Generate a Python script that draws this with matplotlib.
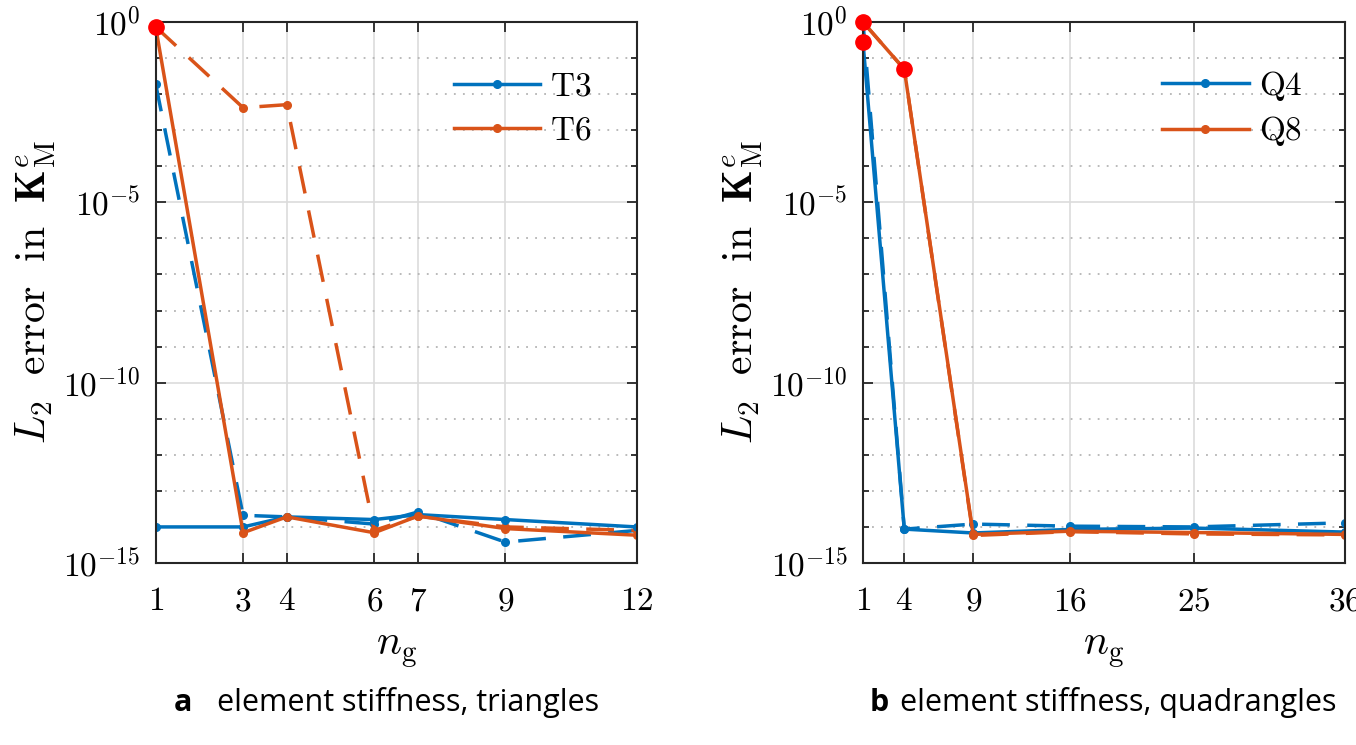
import numpy as np
import matplotlib
matplotlib.use('Agg')
import matplotlib.pyplot as plt
from matplotlib.ticker import FixedLocator, FixedFormatter, NullFormatter

plt.rcParams['mathtext.fontset'] = 'cm'
plt.rcParams['font.family'] = 'serif'
plt.rcParams['font.serif'] = ['DejaVu Serif']

BLUE = '#0072BD'
ORANGE = '#D95319'

# triangles
ng_tri = [1, 3, 4, 6, 7, 9, 12]
t3_solid = [1.0e-14, 1.0e-14, 1.9e-14, 1.6e-14, 2.2e-14, 1.6e-14, 1.0e-14]
t3_dashed = [1.9e-2, 2.1e-14, 1.9e-14, 1.2e-14, 2.6e-14, 3.8e-15, 8.0e-15]
t6_solid = [0.73, 6.9e-15, 1.9e-14, 6.9e-15, 2.0e-14, 9.0e-15, 5.9e-15]
t6_dashed = [0.73, 4.2e-3, 5.1e-3, 8.0e-15, 2.0e-14, 1.0e-14, 8.0e-15]
red_tri_x = [1]
red_tri_y = [0.73]

# quadrangles
ng_quad = [1, 4, 9, 16, 25, 36]
q4_solid = [0.28, 8.7e-15, 6.8e-15, 8.5e-15, 9.3e-15, 7.2e-15]
q4_dashed = [1.0, 8.7e-15, 1.2e-14, 1.05e-14, 1.0e-14, 1.3e-14]
q8_solid = [1.0, 4.9e-2, 6.2e-15, 7.6e-15, 7.0e-15, 6.2e-15]
q8_dashed = [1.0, 4.9e-2, 5.8e-15, 7.4e-15, 6.4e-15, 6.0e-15]
red_quad_x = [1, 1, 4]
red_quad_y = [1.0, 0.28, 0.049]

yticks_major = [1e-15, 1e-10, 1e-5, 1e0]
ytick_labels = [r'$10^{-15}$', r'$10^{-10}$', r'$10^{-5}$', r'$10^{0}$']


def setup_axes(ax, xticks, xmax):
    ax.set_yscale('log')
    ax.set_xlim(1, xmax)
    ax.set_ylim(1e-15, 1)
    ax.xaxis.set_major_locator(FixedLocator(xticks))
    ax.xaxis.set_major_formatter(FixedFormatter([r'$%d$' % v for v in xticks]))
    ax.yaxis.set_major_locator(FixedLocator(yticks_major))
    ax.yaxis.set_major_formatter(FixedFormatter(ytick_labels))
    ax.yaxis.set_minor_locator(FixedLocator([10.0**k for k in range(-15, 1)]))
    ax.yaxis.set_minor_formatter(NullFormatter())
    ax.grid(which='major', color='#dcdcdc', lw=1.2, ls='-')
    ax.yaxis.grid(which='minor', color='#b4b4b4', lw=1.3, ls=(0, (1, 4)))
    ax.set_axisbelow(True)
    ax.tick_params(which='both', direction='in', top=True, right=True,
                   labelsize=24, color='#262626', width=1.3)
    ax.tick_params(which='major', length=7)
    ax.tick_params(which='minor', length=4)
    ax.tick_params(axis='x', pad=16)
    ax.tick_params(axis='y', pad=11)
    for s in ax.spines.values():
        s.set_color('#262626')
        s.set_linewidth(1.5)
    ax.set_ylabel(r'$L_2\ \ \mathrm{error\ \ in}\ \ \mathbf{K}^{e}_{\mathrm{M}}$', fontsize=30, labelpad=4)
    ax.set_xlabel(r'$n_{\mathrm{g}}$', fontsize=30, labelpad=8)


def draw(ax, x, solid_a, dashed_a, solid_b, dashed_b, labels, rx, ry):
    dash = (0, (8, 5))
    ax.plot(x, dashed_a, color=BLUE, lw=2.5, ls=dash, marker='o', ms=5.5)
    ax.plot(x, dashed_b, color=ORANGE, lw=2.5, ls=dash, marker='o', ms=5.5)
    la, = ax.plot(x, solid_a, color=BLUE, lw=2.5, marker='o', ms=5.5, label=labels[0])
    lb, = ax.plot(x, solid_b, color=ORANGE, lw=2.5, marker='o', ms=5.5, label=labels[1])
    ax.plot(rx, ry, ls='none', marker='o', ms=11, color='#FF0000', clip_on=False, zorder=5)
    ax.legend(handles=[la, lb], loc='center left', bbox_to_anchor=(0.62, 0.84),
              frameon=False, fontsize=24, handlelength=2.6, labelspacing=0.35,
              handletextpad=0.3, borderpad=0, borderaxespad=0)


fig = plt.figure(figsize=(13.56, 7.45), dpi=100)
ax1 = fig.add_axes([0.1148, 0.2443, 0.3546, 0.7262])
ax2 = fig.add_axes([0.6364, 0.2443, 0.3555, 0.7262])

setup_axes(ax1, ng_tri, 12)
draw(ax1, ng_tri, t3_solid, t3_dashed, t6_solid, t6_dashed,
     [r'$\mathrm{T3}$', r'$\mathrm{T6}$'], red_tri_x, red_tri_y)

setup_axes(ax2, ng_quad, 36)
draw(ax2, ng_quad, q4_solid, q4_dashed, q8_solid, q8_dashed,
     [r'$\mathrm{Q4}$', r'$\mathrm{Q8}$'], red_quad_x, red_quad_y)

cap_font = ['Open Sans', 'DejaVu Sans']
fig.text(0.128, 0.045, 'a', fontsize=22, fontweight='bold', family=cap_font)
fig.text(0.160, 0.045, 'element stiffness, triangles', fontsize=22, family=cap_font)
fig.text(0.6416, 0.045, 'b', fontsize=22, fontweight='bold', family=cap_font)
fig.text(0.6637, 0.045, 'element stiffness, quadrangles', fontsize=22, family=cap_font)

fig.savefig('out.png', dpi=100)
